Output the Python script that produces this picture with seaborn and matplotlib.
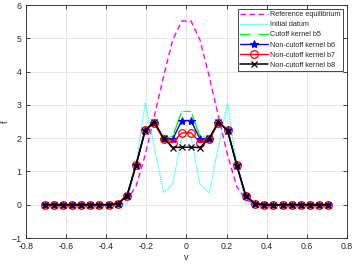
import numpy as np
import pandas as pd
import seaborn as sns
import matplotlib
matplotlib.use('Agg')
import matplotlib.pyplot as plt

# velocity grid (32 points)
v = [-0.707, -0.661, -0.616, -0.570, -0.524, -0.479, -0.433, -0.388,
     -0.342, -0.296, -0.251, -0.205, -0.160, -0.114, -0.068, -0.023,
     0.023, 0.068, 0.114, 0.160, 0.205, 0.251, 0.296, 0.342,
     0.388, 0.433, 0.479, 0.524, 0.570, 0.616, 0.661, 0.707]

def mirror(half):
    return half + half[::-1]

# left halves (i = 0..15), curves are symmetric in v
ref_eq = mirror([0, 0, 0, 0, 0, 0, 0, 0.01, 0.03, 0.15, 0.55, 1.5, 2.65, 3.85, 4.95, 5.52])
init = mirror([0, 0, 0, 0, 0, 0, 0, 0, 0, 0.03, 1.2, 3.05, 1.75, 0.37, 0.62, 2.05])
b5 = mirror([0, 0, 0, 0, 0, 0, 0, 0, 0.03, 0.27, 1.2, 2.25, 2.47, 2.0, 2.05, 2.8])
b6 = mirror([0, 0, 0, 0, 0, 0, 0, 0, 0.03, 0.27, 1.2, 2.25, 2.47, 1.98, 1.97, 2.53])
b7 = mirror([0, 0, 0, 0, 0, 0, 0, 0, 0.03, 0.27, 1.2, 2.25, 2.45, 1.97, 1.87, 2.16])
b8 = mirror([0, 0, 0, 0, 0, 0, 0, 0, 0.03, 0.27, 1.18, 2.23, 2.5, 2.0, 1.72, 1.73])

sns.set_theme(style="whitegrid")
plt.rcParams['font.family'] = ['Liberation Sans', 'DejaVu Sans']

fig = plt.figure(figsize=(3.54, 2.66), dpi=100)
ax = fig.add_axes([0.073, 0.105, 0.907, 0.876])

ax.plot(v, ref_eq, color=(1, 0, 1), ls=(0, (4, 2.5)), lw=1.0, label='Reference equilibrium')
sns.lineplot(x=v, y=init, ax=ax, color=(0, 1, 1), ls=(0, (1, 0.8)), lw=0.8, label='Initial datum')
sns.lineplot(x=v, y=b5, ax=ax, color=(0, 1, 0), lw=1.0, marker='+', ms=6, mew=0.9,
             label='Cutoff kernel b5')
sns.lineplot(x=v, y=b6, ax=ax, color=(0, 0, 1), lw=1.0, marker='*', ms=6, mew=0.8,
             mec=(0, 0, 1), label='Non-cutoff kernel b6')
sns.lineplot(x=v, y=b7, ax=ax, color=(1, 0, 0), lw=1.0, marker='o', ms=5.5, mew=0.9,
             mfc='none', mec=(1, 0, 0), label='Non-cutoff kernel b7')
sns.lineplot(x=v, y=b8, ax=ax, color='black', lw=1.1, marker='x', ms=3.8, mew=0.9,
             mec='black', label='Non-cutoff kernel b8')

ax.set_xlim(-0.8, 0.8)
ax.set_ylim(-1, 6)
ax.set_xticks(np.arange(-0.8, 0.81, 0.2))
ax.set_yticks(range(-1, 7))
ax.set_xticklabels(['-0.8', '-0.6', '-0.4', '-0.2', '0', '0.2', '0.4', '0.6', '0.8'])
ax.set_xlabel('v', fontsize=6.5, color='#262626', labelpad=2)
ax.set_ylabel('f', fontsize=6.5, color='#262626')
ax.yaxis.set_label_coords(-0.05, 0.5)
ax.tick_params(axis='both', direction='in', length=3, width=0.6, labelsize=6.3,
               colors='#262626', top=True, right=True, bottom=True, left=True)
ax.tick_params(axis='x', pad=2.5)
ax.tick_params(axis='y', pad=3)
ax.grid(True, color='#e3e3e3', lw=0.6)
for s in ax.spines.values():
    s.set_color('#262626')
    s.set_linewidth(0.6)

leg = ax.legend(loc='upper right', fontsize=5.2, frameon=True, fancybox=False,
                edgecolor='#262626', framealpha=1, handlelength=3.8,
                borderpad=0.35, labelspacing=0.42, handletextpad=0.4,
                borderaxespad=0.5)
leg.get_frame().set_linewidth(0.6)

fig.savefig('out.png', dpi=100)
